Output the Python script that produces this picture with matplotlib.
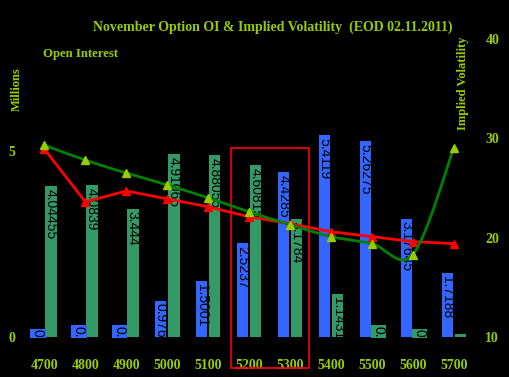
import numpy as np
import matplotlib
matplotlib.use("Agg")
import matplotlib.pyplot as plt
from matplotlib.path import Path
from matplotlib.patches import PathPatch, Rectangle

strikes = ["4700", "4800", "4900", "5000", "5100", "5200", "5300", "5400", "5500", "5600", "5700"]
oi_blue = [0.0, 0.0, 0.0, 0.976, 1.5001, 2.5237, 4.4285, 5.4119, 5.26275, 3.17645, 1.7188]
oi_blue_labels = ["0", "0.", "0.", "0.976", "1.5001", "2.5237", "4.4285", "5.4119", "5.26275", "3.17645", "1.7188"]
oi_green = [4.04455, 4.0839, 3.444, 4.91065, 4.88055, 4.60815, 3.1784, 1.1431, 0.3, 0.15, 0.08]
oi_green_labels = ["4.04455", "4.0839", "3.444", "4.91065", "4.88055", "4.60815", "3.1784", "1.1431", "0.", "0", ""]
iv_red = [28.9, 23.6, 24.7, 23.9, 23.1, 22.1, 21.4, 20.6, 20.1, 19.6, 19.4]
iv_green = [29.3, 27.8, 26.5, 25.3, 24.0, 22.6, 21.3, 20.1, 19.4, 18.3, 29.0]

BLUE = "#3366ff"
GREEN = "#339966"
LIME = "#99cc00"
SERIF = "Liberation Serif"

fig = plt.figure(figsize=(5.1, 3.77), dpi=100, facecolor="black")
ax = fig.add_axes([0.047, 0.106, 0.883, 0.791])
ax.set_facecolor("black")
ax2 = ax.twinx()

x = np.arange(len(strikes))
w = 0.28
off = 0.16

def put_labels(xs, vals, labels, color):
    for xi, v, lab in zip(xs, vals, labels):
        if not lab:
            continue
        if v > 0.6:
            ax.annotate(lab, (xi, v), xytext=(0, -2), textcoords="offset points",
                        rotation=270, ha="center", va="top", fontsize=10,
                        family="Liberation Sans", color="black", zorder=3)
        else:
            ax.text(xi, 0, lab, rotation=270, ha="center", va="bottom", fontsize=10,
                    family="Liberation Sans", color="black", zorder=3,
                    bbox=dict(facecolor=color, edgecolor="none", pad=0.5))

ax.bar(x - off, oi_blue, width=w, color=BLUE, zorder=2)
ax.bar(x + off, oi_green, width=w, color=GREEN, zorder=2)
put_labels(x - off, oi_blue, oi_blue_labels, BLUE)
put_labels(x + off, oi_green, oi_green_labels, GREEN)

ax.set_xlim(-0.5, len(strikes) - 0.5)
ax.set_ylim(0, 8)
ax.set_yticks([0, 5])
ax.set_xticks(x)
ax.set_xticklabels(strikes)
for s in ax.spines.values():
    s.set_visible(False)
for s in ax2.spines.values():
    s.set_visible(False)
ax.tick_params(axis="both", length=0, colors=LIME)
ax.tick_params(axis="x", pad=16)
ax.tick_params(axis="y", pad=6)
for lab in ax.get_xticklabels() + ax.get_yticklabels():
    lab.set_fontfamily(SERIF)
    lab.set_fontweight("bold")
    lab.set_fontsize(10)

# implied volatility lines
ax2.set_ylim(10, 40)
ax2.set_yticks([10, 20, 30, 40])
ax2.tick_params(axis="y", length=0, colors=LIME, pad=8)
for lab in ax2.get_yticklabels():
    lab.set_fontfamily(SERIF)
    lab.set_fontweight("bold")
    lab.set_fontsize(10)

ax2.plot(x, iv_red, color="red", lw=2, marker="^", ms=6, mfc="red", mec="red", zorder=4)

# smoothed green line (Excel-style bezier through the points)
pts = np.column_stack([x, iv_green]).astype(float)
verts = [pts[0]]
codes = [Path.MOVETO]
n = len(pts)
for i in range(n - 1):
    p0 = pts[max(i - 1, 0)]
    p1 = pts[i]
    p2 = pts[i + 1]
    p3 = pts[min(i + 2, n - 1)]
    verts += [p1 + (p2 - p0) / 6, p2 - (p3 - p1) / 6, p2]
    codes += [Path.CURVE4] * 3
ax2.add_patch(PathPatch(Path(verts, codes), facecolor="none", edgecolor="#008000", lw=2, zorder=5))
ax2.plot(x, iv_green, ls="none", marker="^", ms=6, mfc=LIME, mec=LIME, zorder=6)

# highlight box around 5200-5300
ax.add_patch(Rectangle((4.55, -0.83), 1.92, 5.9, fill=False, edgecolor="red", lw=1.2,
                       clip_on=False, zorder=7))

fig.text(0.535, 0.928, "November Option OI & Implied Volatility  (EOD 02.11.2011)",
         ha="center", va="center", color=LIME, fontsize=10, fontweight="bold", family=SERIF)
fig.text(0.158, 0.857, "Open Interest", ha="center", va="center", color=LIME,
         fontsize=9.2, fontweight="bold", family=SERIF)
fig.text(0.033, 0.764, "Millions", ha="center", va="center", rotation=90, color=LIME,
         fontsize=9, fontweight="bold", family=SERIF)
fig.text(0.908, 0.78, "Implied Volatility", ha="center", va="center", rotation=90,
         color=LIME, fontsize=9, fontweight="bold", family=SERIF)

fig.savefig("out.png", dpi=100, facecolor="black")
